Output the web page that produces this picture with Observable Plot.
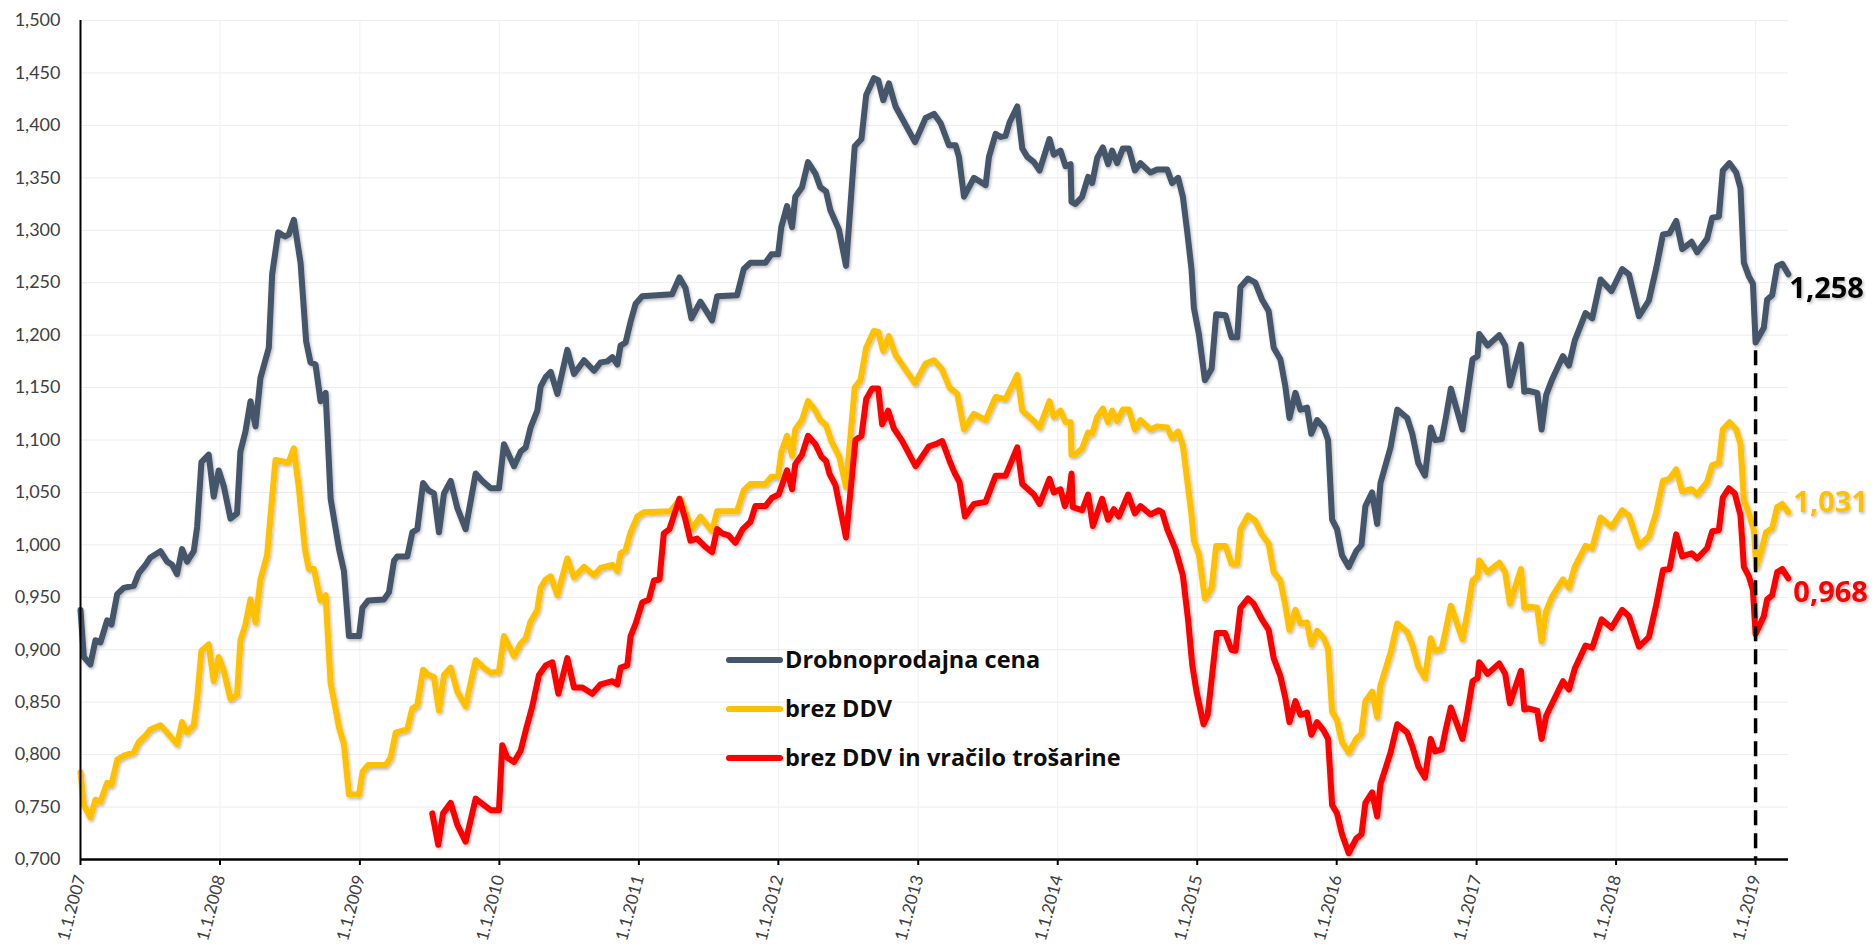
<!DOCTYPE html>
<html><head><meta charset="utf-8">
<script src="https://cdn.jsdelivr.net/npm/d3@7"></script>
<script src="https://cdn.jsdelivr.net/npm/@observablehq/plot@0.6"></script>
<style>
html,body{margin:0;padding:0;background:#fff;}
#chart{width:1876px;height:952px;overflow:hidden;}
</style></head><body><div id="chart"></div>
<script>
// ---------- DATA ----------
const seriesNames = ["Drobnoprodajna cena", "brez DDV", "brez DDV in vračilo trošarine"];
const seriesColors = ["#44546A", "#FFC000", "#FF0000"];
const labelColors = ["#000000", "#FFC000", "#FF0000"];
const endLabels = ["1,258", "1,031", "0,968"];
const yTicks = [0.70,0.75,0.80,0.85,0.90,0.95,1.00,1.05,1.10,1.15,1.20,1.25,1.30,1.35,1.40,1.45,1.50];
const xTickYears = [2007,2008,2009,2010,2011,2012,2013,2014,2015,2016,2017,2018,2019];
const markerYear = 2019.0;     // vertical dashed marker (1.1.2019)
const markerTop = 1.185;

// [decimal year, value]
const drobnoprodajna = [[2007.000,0.938],[2007.024,0.893],[2007.071,0.886],[2007.107,0.909],[2007.143,0.907],[2007.191,0.928],[2007.222,0.924],[2007.263,0.953],[2007.310,0.959],[2007.382,0.961],[2007.418,0.973],[2007.466,0.981],[2007.501,0.988],[2007.573,0.994],[2007.621,0.984],[2007.657,0.981],[2007.692,0.972],[2007.728,0.996],[2007.764,0.984],[2007.812,0.994],[2007.836,1.017],[2007.867,1.079],[2007.919,1.086],[2007.955,1.046],[2007.991,1.071],[2008.027,1.056],[2008.075,1.025],[2008.122,1.030],[2008.146,1.089],[2008.182,1.108],[2008.218,1.137],[2008.254,1.113],[2008.289,1.159],[2008.349,1.188],[2008.373,1.258],[2008.416,1.298],[2008.464,1.294],[2008.492,1.296],[2008.528,1.310],[2008.576,1.269],[2008.616,1.194],[2008.647,1.174],[2008.683,1.172],[2008.719,1.137],[2008.755,1.145],[2008.791,1.044],[2008.851,0.996],[2008.886,0.975],[2008.922,0.913],[2008.994,0.913],[2009.018,0.940],[2009.060,0.947],[2009.173,0.948],[2009.209,0.955],[2009.245,0.985],[2009.269,0.989],[2009.340,0.989],[2009.376,1.012],[2009.412,1.015],[2009.453,1.059],[2009.491,1.052],[2009.531,1.049],[2009.567,1.012],[2009.603,1.049],[2009.651,1.061],[2009.699,1.035],[2009.758,1.015],[2009.830,1.068],[2009.878,1.061],[2009.938,1.054],[2009.997,1.054],[2010.033,1.096],[2010.105,1.075],[2010.153,1.089],[2010.189,1.093],[2010.224,1.112],[2010.272,1.128],[2010.296,1.151],[2010.332,1.160],[2010.368,1.165],[2010.416,1.144],[2010.487,1.186],[2010.535,1.163],[2010.607,1.176],[2010.678,1.166],[2010.726,1.174],[2010.774,1.175],[2010.810,1.179],[2010.846,1.172],[2010.869,1.190],[2010.905,1.193],[2010.941,1.213],[2010.977,1.230],[2011.024,1.237],[2011.238,1.239],[2011.291,1.255],[2011.334,1.245],[2011.377,1.216],[2011.441,1.232],[2011.525,1.214],[2011.561,1.237],[2011.704,1.238],[2011.752,1.263],[2011.800,1.269],[2011.907,1.269],[2011.950,1.277],[2011.998,1.277],[2012.021,1.303],[2012.062,1.323],[2012.098,1.303],[2012.121,1.332],[2012.169,1.341],[2012.212,1.365],[2012.265,1.354],[2012.300,1.341],[2012.341,1.337],[2012.372,1.319],[2012.432,1.301],[2012.484,1.266],[2012.546,1.380],[2012.594,1.387],[2012.628,1.429],[2012.683,1.445],[2012.714,1.443],[2012.750,1.424],[2012.790,1.440],[2012.838,1.418],[2012.977,1.384],[2013.053,1.407],[2013.113,1.411],[2013.161,1.402],[2013.220,1.381],[2013.268,1.381],[2013.292,1.370],[2013.328,1.332],[2013.399,1.350],[2013.483,1.343],[2013.507,1.370],[2013.555,1.392],[2013.590,1.389],[2013.626,1.390],[2013.655,1.403],[2013.710,1.418],[2013.746,1.378],[2013.782,1.370],[2013.829,1.365],[2013.870,1.357],[2013.941,1.387],[2013.972,1.372],[2014.020,1.376],[2014.056,1.361],[2014.092,1.363],[2014.099,1.327],[2014.127,1.325],[2014.175,1.332],[2014.218,1.351],[2014.247,1.345],[2014.283,1.369],[2014.323,1.379],[2014.361,1.363],[2014.390,1.376],[2014.426,1.364],[2014.467,1.378],[2014.510,1.378],[2014.553,1.357],[2014.593,1.364],[2014.665,1.355],[2014.713,1.358],[2014.785,1.358],[2014.820,1.345],[2014.863,1.350],[2014.897,1.332],[2014.928,1.299],[2014.959,1.263],[2014.976,1.226],[2015.012,1.201],[2015.055,1.157],[2015.103,1.168],[2015.136,1.220],[2015.203,1.219],[2015.246,1.198],[2015.287,1.198],[2015.310,1.246],[2015.364,1.254],[2015.416,1.250],[2015.464,1.234],[2015.512,1.223],[2015.548,1.188],[2015.596,1.177],[2015.632,1.151],[2015.661,1.121],[2015.704,1.145],[2015.740,1.129],[2015.787,1.131],[2015.818,1.106],[2015.859,1.119],[2015.907,1.112],[2015.938,1.100],[2015.967,1.024],[2016.002,1.015],[2016.038,0.990],[2016.086,0.979],[2016.139,0.994],[2016.177,1.000],[2016.205,1.037],[2016.253,1.050],[2016.289,1.020],[2016.313,1.059],[2016.385,1.093],[2016.433,1.129],[2016.504,1.121],[2016.540,1.106],[2016.583,1.078],[2016.631,1.066],[2016.672,1.112],[2016.703,1.100],[2016.751,1.101],[2016.780,1.121],[2016.816,1.149],[2016.899,1.110],[2016.935,1.143],[2016.971,1.177],[2017.007,1.180],[2017.019,1.201],[2017.079,1.190],[2017.162,1.200],[2017.205,1.190],[2017.239,1.152],[2017.318,1.191],[2017.342,1.146],[2017.370,1.147],[2017.435,1.145],[2017.466,1.110],[2017.499,1.143],[2017.542,1.158],[2017.619,1.180],[2017.662,1.171],[2017.704,1.195],[2017.781,1.221],[2017.829,1.216],[2017.889,1.253],[2017.967,1.242],[2018.044,1.263],[2018.092,1.258],[2018.164,1.218],[2018.235,1.233],[2018.288,1.264],[2018.336,1.296],[2018.383,1.297],[2018.431,1.309],[2018.474,1.282],[2018.541,1.289],[2018.581,1.279],[2018.653,1.292],[2018.689,1.312],[2018.737,1.313],[2018.765,1.357],[2018.813,1.364],[2018.861,1.355],[2018.892,1.340],[2018.916,1.269],[2018.952,1.256],[2018.981,1.249],[2019.000,1.193],[2019.059,1.207],[2019.083,1.234],[2019.119,1.238],[2019.155,1.266],[2019.191,1.268],[2019.235,1.258]];

const brezDDV = [[2007.000,0.783],[2007.024,0.752],[2007.071,0.740],[2007.107,0.757],[2007.143,0.755],[2007.191,0.773],[2007.222,0.771],[2007.263,0.795],[2007.310,0.799],[2007.382,0.802],[2007.418,0.812],[2007.466,0.818],[2007.501,0.824],[2007.573,0.828],[2007.621,0.821],[2007.692,0.810],[2007.728,0.831],[2007.764,0.821],[2007.812,0.828],[2007.836,0.853],[2007.867,0.899],[2007.919,0.905],[2007.955,0.870],[2007.991,0.893],[2008.027,0.880],[2008.075,0.853],[2008.122,0.857],[2008.146,0.909],[2008.182,0.924],[2008.218,0.948],[2008.254,0.926],[2008.289,0.967],[2008.337,0.990],[2008.373,1.046],[2008.397,1.081],[2008.468,1.079],[2008.492,1.079],[2008.528,1.092],[2008.564,1.054],[2008.607,0.996],[2008.635,0.977],[2008.671,0.977],[2008.719,0.947],[2008.755,0.952],[2008.791,0.868],[2008.851,0.826],[2008.886,0.810],[2008.922,0.762],[2008.994,0.762],[2009.020,0.784],[2009.060,0.790],[2009.185,0.790],[2009.221,0.797],[2009.257,0.821],[2009.340,0.824],[2009.376,0.844],[2009.412,0.847],[2009.453,0.881],[2009.491,0.876],[2009.531,0.874],[2009.567,0.842],[2009.603,0.876],[2009.651,0.883],[2009.699,0.860],[2009.758,0.846],[2009.830,0.890],[2009.878,0.884],[2009.938,0.878],[2009.997,0.879],[2010.033,0.913],[2010.105,0.894],[2010.153,0.906],[2010.189,0.911],[2010.224,0.927],[2010.272,0.938],[2010.296,0.959],[2010.332,0.967],[2010.368,0.970],[2010.416,0.952],[2010.487,0.987],[2010.535,0.969],[2010.607,0.979],[2010.678,0.971],[2010.726,0.978],[2010.810,0.981],[2010.846,0.975],[2010.869,0.992],[2010.905,0.995],[2010.941,1.012],[2010.989,1.027],[2011.036,1.031],[2011.226,1.032],[2011.298,1.044],[2011.334,1.031],[2011.381,1.015],[2011.441,1.027],[2011.525,1.013],[2011.561,1.032],[2011.704,1.032],[2011.752,1.052],[2011.800,1.058],[2011.907,1.058],[2011.950,1.065],[2011.998,1.065],[2012.021,1.088],[2012.062,1.104],[2012.098,1.085],[2012.121,1.110],[2012.169,1.119],[2012.212,1.137],[2012.265,1.128],[2012.300,1.119],[2012.341,1.114],[2012.379,1.099],[2012.436,1.084],[2012.484,1.055],[2012.546,1.150],[2012.587,1.157],[2012.628,1.188],[2012.683,1.204],[2012.714,1.203],[2012.750,1.185],[2012.790,1.199],[2012.838,1.181],[2012.977,1.154],[2013.053,1.173],[2013.113,1.176],[2013.168,1.168],[2013.225,1.150],[2013.280,1.144],[2013.328,1.110],[2013.399,1.125],[2013.483,1.119],[2013.555,1.141],[2013.626,1.139],[2013.710,1.162],[2013.746,1.128],[2013.829,1.118],[2013.870,1.112],[2013.941,1.137],[2013.972,1.122],[2014.020,1.128],[2014.056,1.117],[2014.092,1.117],[2014.099,1.086],[2014.127,1.086],[2014.175,1.092],[2014.218,1.107],[2014.247,1.106],[2014.283,1.122],[2014.323,1.130],[2014.361,1.117],[2014.390,1.128],[2014.426,1.118],[2014.467,1.129],[2014.510,1.129],[2014.553,1.110],[2014.593,1.119],[2014.665,1.110],[2014.713,1.113],[2014.785,1.112],[2014.820,1.102],[2014.863,1.108],[2014.897,1.095],[2014.928,1.062],[2014.959,1.029],[2014.976,1.004],[2015.012,0.991],[2015.055,0.949],[2015.103,0.959],[2015.136,0.999],[2015.203,0.999],[2015.246,0.982],[2015.287,0.982],[2015.310,1.015],[2015.364,1.028],[2015.416,1.023],[2015.464,1.010],[2015.512,1.001],[2015.548,0.974],[2015.596,0.966],[2015.632,0.942],[2015.661,0.919],[2015.704,0.938],[2015.740,0.925],[2015.787,0.926],[2015.818,0.905],[2015.859,0.918],[2015.907,0.911],[2015.938,0.901],[2015.967,0.841],[2016.002,0.833],[2016.038,0.812],[2016.086,0.802],[2016.139,0.815],[2016.177,0.820],[2016.205,0.851],[2016.253,0.860],[2016.289,0.836],[2016.313,0.866],[2016.385,0.897],[2016.433,0.925],[2016.504,0.917],[2016.540,0.905],[2016.583,0.884],[2016.631,0.873],[2016.672,0.911],[2016.703,0.899],[2016.751,0.901],[2016.780,0.919],[2016.816,0.942],[2016.899,0.910],[2016.935,0.936],[2016.971,0.966],[2017.007,0.970],[2017.019,0.985],[2017.079,0.974],[2017.162,0.983],[2017.205,0.974],[2017.239,0.944],[2017.318,0.977],[2017.342,0.940],[2017.370,0.941],[2017.435,0.940],[2017.466,0.908],[2017.499,0.937],[2017.542,0.951],[2017.619,0.967],[2017.662,0.959],[2017.704,0.979],[2017.781,0.999],[2017.829,0.997],[2017.889,1.026],[2017.967,1.017],[2018.044,1.033],[2018.092,1.028],[2018.164,0.999],[2018.235,1.008],[2018.288,1.031],[2018.336,1.061],[2018.383,1.063],[2018.431,1.072],[2018.474,1.051],[2018.541,1.053],[2018.581,1.048],[2018.653,1.060],[2018.689,1.076],[2018.737,1.078],[2018.765,1.110],[2018.813,1.117],[2018.861,1.110],[2018.892,1.096],[2018.916,1.043],[2018.952,1.030],[2018.988,1.014],[2019.005,0.979],[2019.036,0.992],[2019.076,1.012],[2019.119,1.016],[2019.155,1.036],[2019.191,1.039],[2019.235,1.031]];

const brezDDVTrosarina = [[2009.519,0.744],[2009.562,0.714],[2009.596,0.744],[2009.651,0.754],[2009.699,0.733],[2009.758,0.717],[2009.830,0.758],[2009.878,0.753],[2009.938,0.747],[2009.997,0.747],[2010.021,0.809],[2010.057,0.797],[2010.105,0.793],[2010.153,0.804],[2010.189,0.823],[2010.236,0.846],[2010.284,0.876],[2010.332,0.885],[2010.380,0.888],[2010.423,0.858],[2010.487,0.892],[2010.535,0.864],[2010.595,0.864],[2010.666,0.858],[2010.726,0.867],[2010.810,0.870],[2010.846,0.867],[2010.869,0.883],[2010.917,0.885],[2010.941,0.913],[2010.977,0.925],[2011.024,0.945],[2011.072,0.948],[2011.108,0.966],[2011.148,0.967],[2011.179,1.011],[2011.219,1.015],[2011.291,1.044],[2011.334,1.024],[2011.370,1.004],[2011.417,1.006],[2011.477,0.998],[2011.525,0.993],[2011.561,1.015],[2011.596,1.011],[2011.644,1.009],[2011.692,1.002],[2011.744,1.015],[2011.800,1.022],[2011.835,1.037],[2011.907,1.037],[2011.955,1.045],[2012.002,1.048],[2012.026,1.057],[2012.062,1.071],[2012.098,1.053],[2012.121,1.077],[2012.169,1.086],[2012.212,1.104],[2012.265,1.096],[2012.308,1.084],[2012.341,1.080],[2012.365,1.068],[2012.408,1.057],[2012.484,1.007],[2012.551,1.100],[2012.594,1.104],[2012.628,1.139],[2012.671,1.149],[2012.714,1.149],[2012.742,1.115],[2012.785,1.128],[2012.826,1.111],[2012.886,1.099],[2012.981,1.075],[2013.077,1.094],[2013.125,1.096],[2013.172,1.099],[2013.225,1.080],[2013.263,1.068],[2013.296,1.060],[2013.335,1.027],[2013.399,1.039],[2013.483,1.041],[2013.555,1.066],[2013.626,1.066],[2013.710,1.093],[2013.746,1.058],[2013.829,1.048],[2013.870,1.039],[2013.941,1.063],[2013.972,1.050],[2014.020,1.053],[2014.051,1.037],[2014.080,1.048],[2014.099,1.068],[2014.108,1.036],[2014.175,1.033],[2014.218,1.048],[2014.252,1.018],[2014.318,1.044],[2014.361,1.024],[2014.402,1.034],[2014.438,1.027],[2014.505,1.048],[2014.553,1.030],[2014.593,1.037],[2014.665,1.029],[2014.725,1.033],[2014.749,1.031],[2014.785,1.015],[2014.844,0.996],[2014.897,0.971],[2014.935,0.928],[2014.965,0.885],[2014.995,0.860],[2015.045,0.829],[2015.075,0.838],[2015.110,0.880],[2015.140,0.916],[2015.200,0.916],[2015.245,0.900],[2015.274,0.899],[2015.310,0.940],[2015.364,0.949],[2015.404,0.944],[2015.464,0.929],[2015.512,0.919],[2015.548,0.892],[2015.596,0.875],[2015.632,0.854],[2015.661,0.831],[2015.704,0.851],[2015.740,0.838],[2015.787,0.840],[2015.818,0.819],[2015.859,0.831],[2015.907,0.823],[2015.938,0.815],[2015.967,0.752],[2016.002,0.744],[2016.038,0.724],[2016.086,0.706],[2016.139,0.720],[2016.177,0.724],[2016.205,0.754],[2016.253,0.764],[2016.289,0.741],[2016.313,0.772],[2016.385,0.802],[2016.433,0.829],[2016.504,0.821],[2016.540,0.808],[2016.583,0.789],[2016.631,0.778],[2016.672,0.815],[2016.703,0.803],[2016.751,0.805],[2016.780,0.824],[2016.816,0.845],[2016.899,0.815],[2016.935,0.841],[2016.971,0.870],[2017.007,0.873],[2017.019,0.888],[2017.079,0.877],[2017.162,0.887],[2017.205,0.877],[2017.239,0.849],[2017.318,0.880],[2017.342,0.843],[2017.370,0.844],[2017.435,0.842],[2017.466,0.815],[2017.499,0.837],[2017.542,0.849],[2017.619,0.870],[2017.662,0.862],[2017.704,0.882],[2017.781,0.904],[2017.829,0.902],[2017.896,0.929],[2017.967,0.921],[2018.044,0.938],[2018.092,0.932],[2018.164,0.903],[2018.235,0.912],[2018.288,0.943],[2018.336,0.976],[2018.383,0.977],[2018.431,1.010],[2018.474,0.989],[2018.541,0.992],[2018.581,0.987],[2018.653,0.997],[2018.689,1.013],[2018.737,1.014],[2018.765,1.045],[2018.808,1.054],[2018.851,1.049],[2018.892,1.028],[2018.916,0.979],[2018.952,0.970],[2018.981,0.957],[2019.000,0.915],[2019.059,0.932],[2019.083,0.948],[2019.119,0.952],[2019.155,0.974],[2019.191,0.977],[2019.235,0.968]];

// ---------- LAYOUT ----------
const W = 1876, H = 952;
const FONT = "Lato, 'Open Sans', sans-serif";
const LABEL_FONT = "'Open Sans', Lato, sans-serif";
const endLabelDy = [14, -10, 14];
const endLabelDx = [0, 4, 4];
const xDomainEnd = 2019.236;

function toDate(y) {
  const yr = Math.floor(y);
  const a = Date.UTC(yr, 0, 1), b = Date.UTC(yr + 1, 0, 1);
  return new Date(a + (y - yr) * (b - a));
}

const seriesArrays = [drobnoprodajna, brezDDV, brezDDVTrosarina];
const rows = [];
seriesArrays.forEach((arr, i) => arr.forEach(([t, v]) => rows.push({date: toDate(t), value: v, series: seriesNames[i]})));
const endRows = seriesArrays.map((arr, i) => {
  const [t, v] = arr[arr.length - 1];
  return {date: toDate(t), value: v, label: endLabels[i], color: labelColors[i]};
});
const xTicks = xTickYears.map(y => toDate(y));
const fmtY = v => v.toFixed(3).replace(".", ",");
const fmtX = d => "1.1." + d.getUTCFullYear();

const chart = Plot.plot({
  width: W, height: H,
  marginLeft: 80, marginRight: 88, marginTop: 20, marginBottom: 93,
  style: {fontFamily: FONT, background: "#fff", overflow: "visible"},
  x: {type: "utc", domain: [toDate(2007), toDate(xDomainEnd)], label: null},
  y: {domain: [0.7, 1.5], label: null},
  color: {domain: seriesNames, range: seriesColors},
  marks: [
    Plot.gridY(yTicks, {stroke: "#ececec", strokeOpacity: 1, strokeWidth: 1}),
    Plot.gridX(xTicks, {stroke: "#f0f0f0", strokeOpacity: 1, strokeWidth: 1}),
    Plot.lineY(rows, {x: "date", y: "value", z: "series", stroke: "series", strokeWidth: 6, strokeLinejoin: "round", strokeLinecap: "round"}),
    Plot.ruleX([toDate(markerYear)], {y1: markerTop, y2: 0.7, stroke: "#000", strokeWidth: 3.5, strokeDasharray: "15,8"}),
    Plot.axisY({ticks: yTicks, tickFormat: fmtY, tickSize: 0, tickPadding: 20, fontSize: 18, color: "#404040", label: null}),
    Plot.axisX({ticks: xTicks, tickFormat: () => "", tickSize: 6, stroke: "#000", strokeWidth: 2, label: null}),
    Plot.axisX({ticks: xTicks, tickFormat: fmtX, tickSize: 0, tickPadding: 16, tickRotate: -75, fontSize: 17, color: "#404040", label: null}),
    Plot.ruleX([toDate(2007)], {stroke: "#000", strokeWidth: 2}),
    Plot.ruleY([0.7], {stroke: "#000", strokeWidth: 2.5}),
    Plot.text(endRows, {x: "date", y: "value", text: "label", fill: "color", textAnchor: "start", fontSize: 29, fontWeight: "bold", fontFamily: LABEL_FONT})
  ]
});

const svg = d3.select(chart);
// per-label offsets for the end-of-line value labels
svg.selectAll('g[aria-label="text"] text').each(function(d, i) {
  const t = d3.select(this);
  t.attr("transform", (t.attr("transform") || "") + ` translate(${endLabelDx[i] + 1},${endLabelDy[i]})`);
});

// soft shadow like the original
svg.insert("defs", ":first-child").html(
  `<filter id="sh" x="-5%" y="-5%" width="110%" height="110%">
     <feDropShadow dx="1.2" dy="1.8" stdDeviation="1.4" flood-color="#000" flood-opacity="0.28"/>
   </filter>`);
svg.selectAll('g[aria-label="line"]').attr("filter", "url(#sh)");
svg.selectAll('g[aria-label="text"]').attr("filter", "url(#sh)");

// legend (inside plot area)
const legend = svg.append("g").attr("font-family", LABEL_FONT).attr("font-weight", "bold")
  .attr("font-size", 23.5).attr("text-anchor", "start");
const legX = 729, legY0 = 660, legStep = 49;
seriesNames.forEach((name, i) => {
  const y = legY0 + i * legStep;
  legend.append("line").attr("x1", legX).attr("x2", legX + 51).attr("y1", y).attr("y2", y)
    .attr("stroke", seriesColors[i]).attr("stroke-width", 6).attr("stroke-linecap", "round");
  legend.append("text").attr("x", legX + 56).attr("y", y).attr("dy", "0.36em").attr("fill", "#0d0d0d").text(name);
});

document.getElementById("chart").appendChild(chart);
</script>
</body></html>
